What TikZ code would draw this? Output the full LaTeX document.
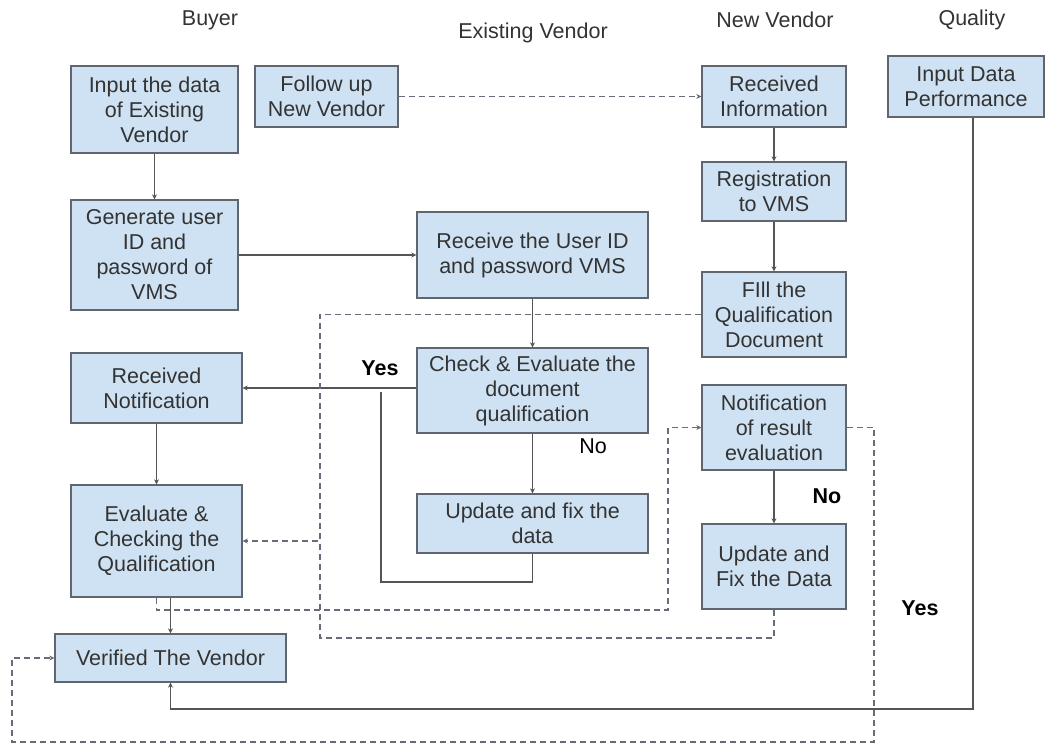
\documentclass[tikz,border=0pt]{standalone}
\usepackage{fontspec}
\setmainfont{Liberation Sans}
\usetikzlibrary{arrows.meta}
\definecolor{boxfill}{HTML}{CFE2F3}
\definecolor{boxdraw}{HTML}{5F6670}
\definecolor{txt}{HTML}{333333}
\definecolor{ln}{HTML}{555555}
\definecolor{dln}{HTML}{6A6A78}
\tikzset{
  box/.style={draw=boxdraw, line width=1.3pt, fill=boxfill, rectangle, inner sep=0pt, align=center, text=txt, font=\fontsize{21.5}{25}\selectfont},
  hdr/.style={text=txt, font=\fontsize{21.5}{25}\selectfont},
  lbl/.style={text=black, font=\fontsize{21.5}{25}\selectfont},
  conn/.style={draw=ln, line width=1.4pt},
  dconn/.style={draw=dln, line width=1.2pt, dash pattern=on 6pt off 4pt},
  arr/.style={-{Stealth[length=5pt,width=5pt]}}
}
\begin{document}
\begin{tikzpicture}[x=1pt,y=-1pt]
\useasboundingbox (0,0) rectangle (1046,745);
\fill[white] (0,0) rectangle (1046,745);
% headers
\node[hdr] (hb) at (210,20) {Buyer};
\node[hdr] (he) at (533,33) {Existing Vendor};
\node[hdr] (hn) at (775,20) {New Vendor};
\node[hdr] (hq) at (972,20) {Quality};
% boxes
\node[box, minimum width=167, minimum height=87] (B1) at (154.5,109.5) {Input the data\\of Existing\\Vendor};
\node[box, minimum width=143, minimum height=61] (B2) at (326.5,96.5) {Follow up\\New Vendor};
\node[box, minimum width=144, minimum height=61] (N1) at (774,96.5) {Received\\Information};
\node[box, minimum width=156, minimum height=61] (Q1) at (966,86.5) {Input Data\\Performance};
\node[box, minimum width=167, minimum height=110] (B3) at (154.5,255) {Generate user\\ID and\\password of\\VMS};
\node[box, minimum width=144, minimum height=59] (N2) at (774,191.5) {Registration\\to VMS};
\node[box, minimum width=231, minimum height=86] (E1) at (532.5,255) {Receive the User ID\\and password VMS};
\node[box, minimum width=144, minimum height=85] (N3) at (774,314.5) {FIll the\\Qualification\\Document};
\node[box, minimum width=171, minimum height=70] (B4) at (156.5,388) {Received\\Notification};
\node[box, minimum width=231, minimum height=85] (E2) at (532.5,390.5) {Check \& Evaluate the\\document\\qualification};
\node[box, minimum width=144, minimum height=85] (N4) at (774,427.5) {Notification\\of result\\evaluation};
\node[box, minimum width=171, minimum height=112] (B5) at (156.5,541) {Evaluate \&\\Checking the\\Qualification};
\node[box, minimum width=231, minimum height=59] (E3) at (532.5,523.5) {Update and fix the\\data};
\node[box, minimum width=144, minimum height=85] (N5) at (774,566.5) {Update and\\Fix the Data};
\node[box, minimum width=231, minimum height=48] (B6) at (170.5,658) {Verified The Vendor};
% helper coordinates
\coordinate (yl) at (381,582);
\coordinate (yj) at (381,392);
\coordinate (c1) at (668,610);
\coordinate (bus) at (320,541);
\coordinate (c2) at (320,638);
\coordinate (c3) at (874,742);
\coordinate (c4) at (12,742);
\coordinate (c5) at (973,709);
% solid connectors
\draw[conn,arr] (B1.south) -- (B3.north);
\draw[conn,arr] (B3.east) -- (E1.west);
\draw[conn,arr] (N1.south) -- (N2.north);
\draw[conn,arr] (N2.south) -- (N3.north);
\draw[conn,arr] (E1.south) -- (E2.north);
\draw[conn,arr] (E2.west |- B4.east) -- (B4.east);
\draw[conn,arr] (E2.south) -- (E3.north);
\draw[conn] (E3.south) |- (yl) -- (yj);
\draw[conn,arr] (B4.south) -- (B5.north);
\draw[conn,arr] (B5.south -| B6.north) -- (B6.north);
\draw[conn,arr] (N4.south) -- (N5.north);
\draw[conn,arr] (Q1.south -| c5) -- (c5) -| (B6.south);
% dashed connectors
\draw[dconn,arr] (B2.east) -- (N1.west);
\draw[dconn,arr] (B5.south) |- (c1) |- (N4.west);
\draw[dconn,arr] (N3.west) -| (bus) -- (B5.east);
\draw[dconn] (N5.south) |- (c2) -- (bus);
\draw[dconn,arr] (N4.east) -| (c3) -- (c4) |- (B6.west);
% labels
\node[lbl, font=\fontsize{21.5}{25}\selectfont\bfseries] (ly1) at (380,368) {Yes};
\node[lbl] (ln1) at (593,446) {No};
\node[lbl, font=\fontsize{21.5}{25}\selectfont\bfseries] (ln2) at (827,496) {No};
\node[lbl, font=\fontsize{21.5}{25}\selectfont\bfseries] (ly2) at (920,608) {Yes};
\end{tikzpicture}
\end{document}
